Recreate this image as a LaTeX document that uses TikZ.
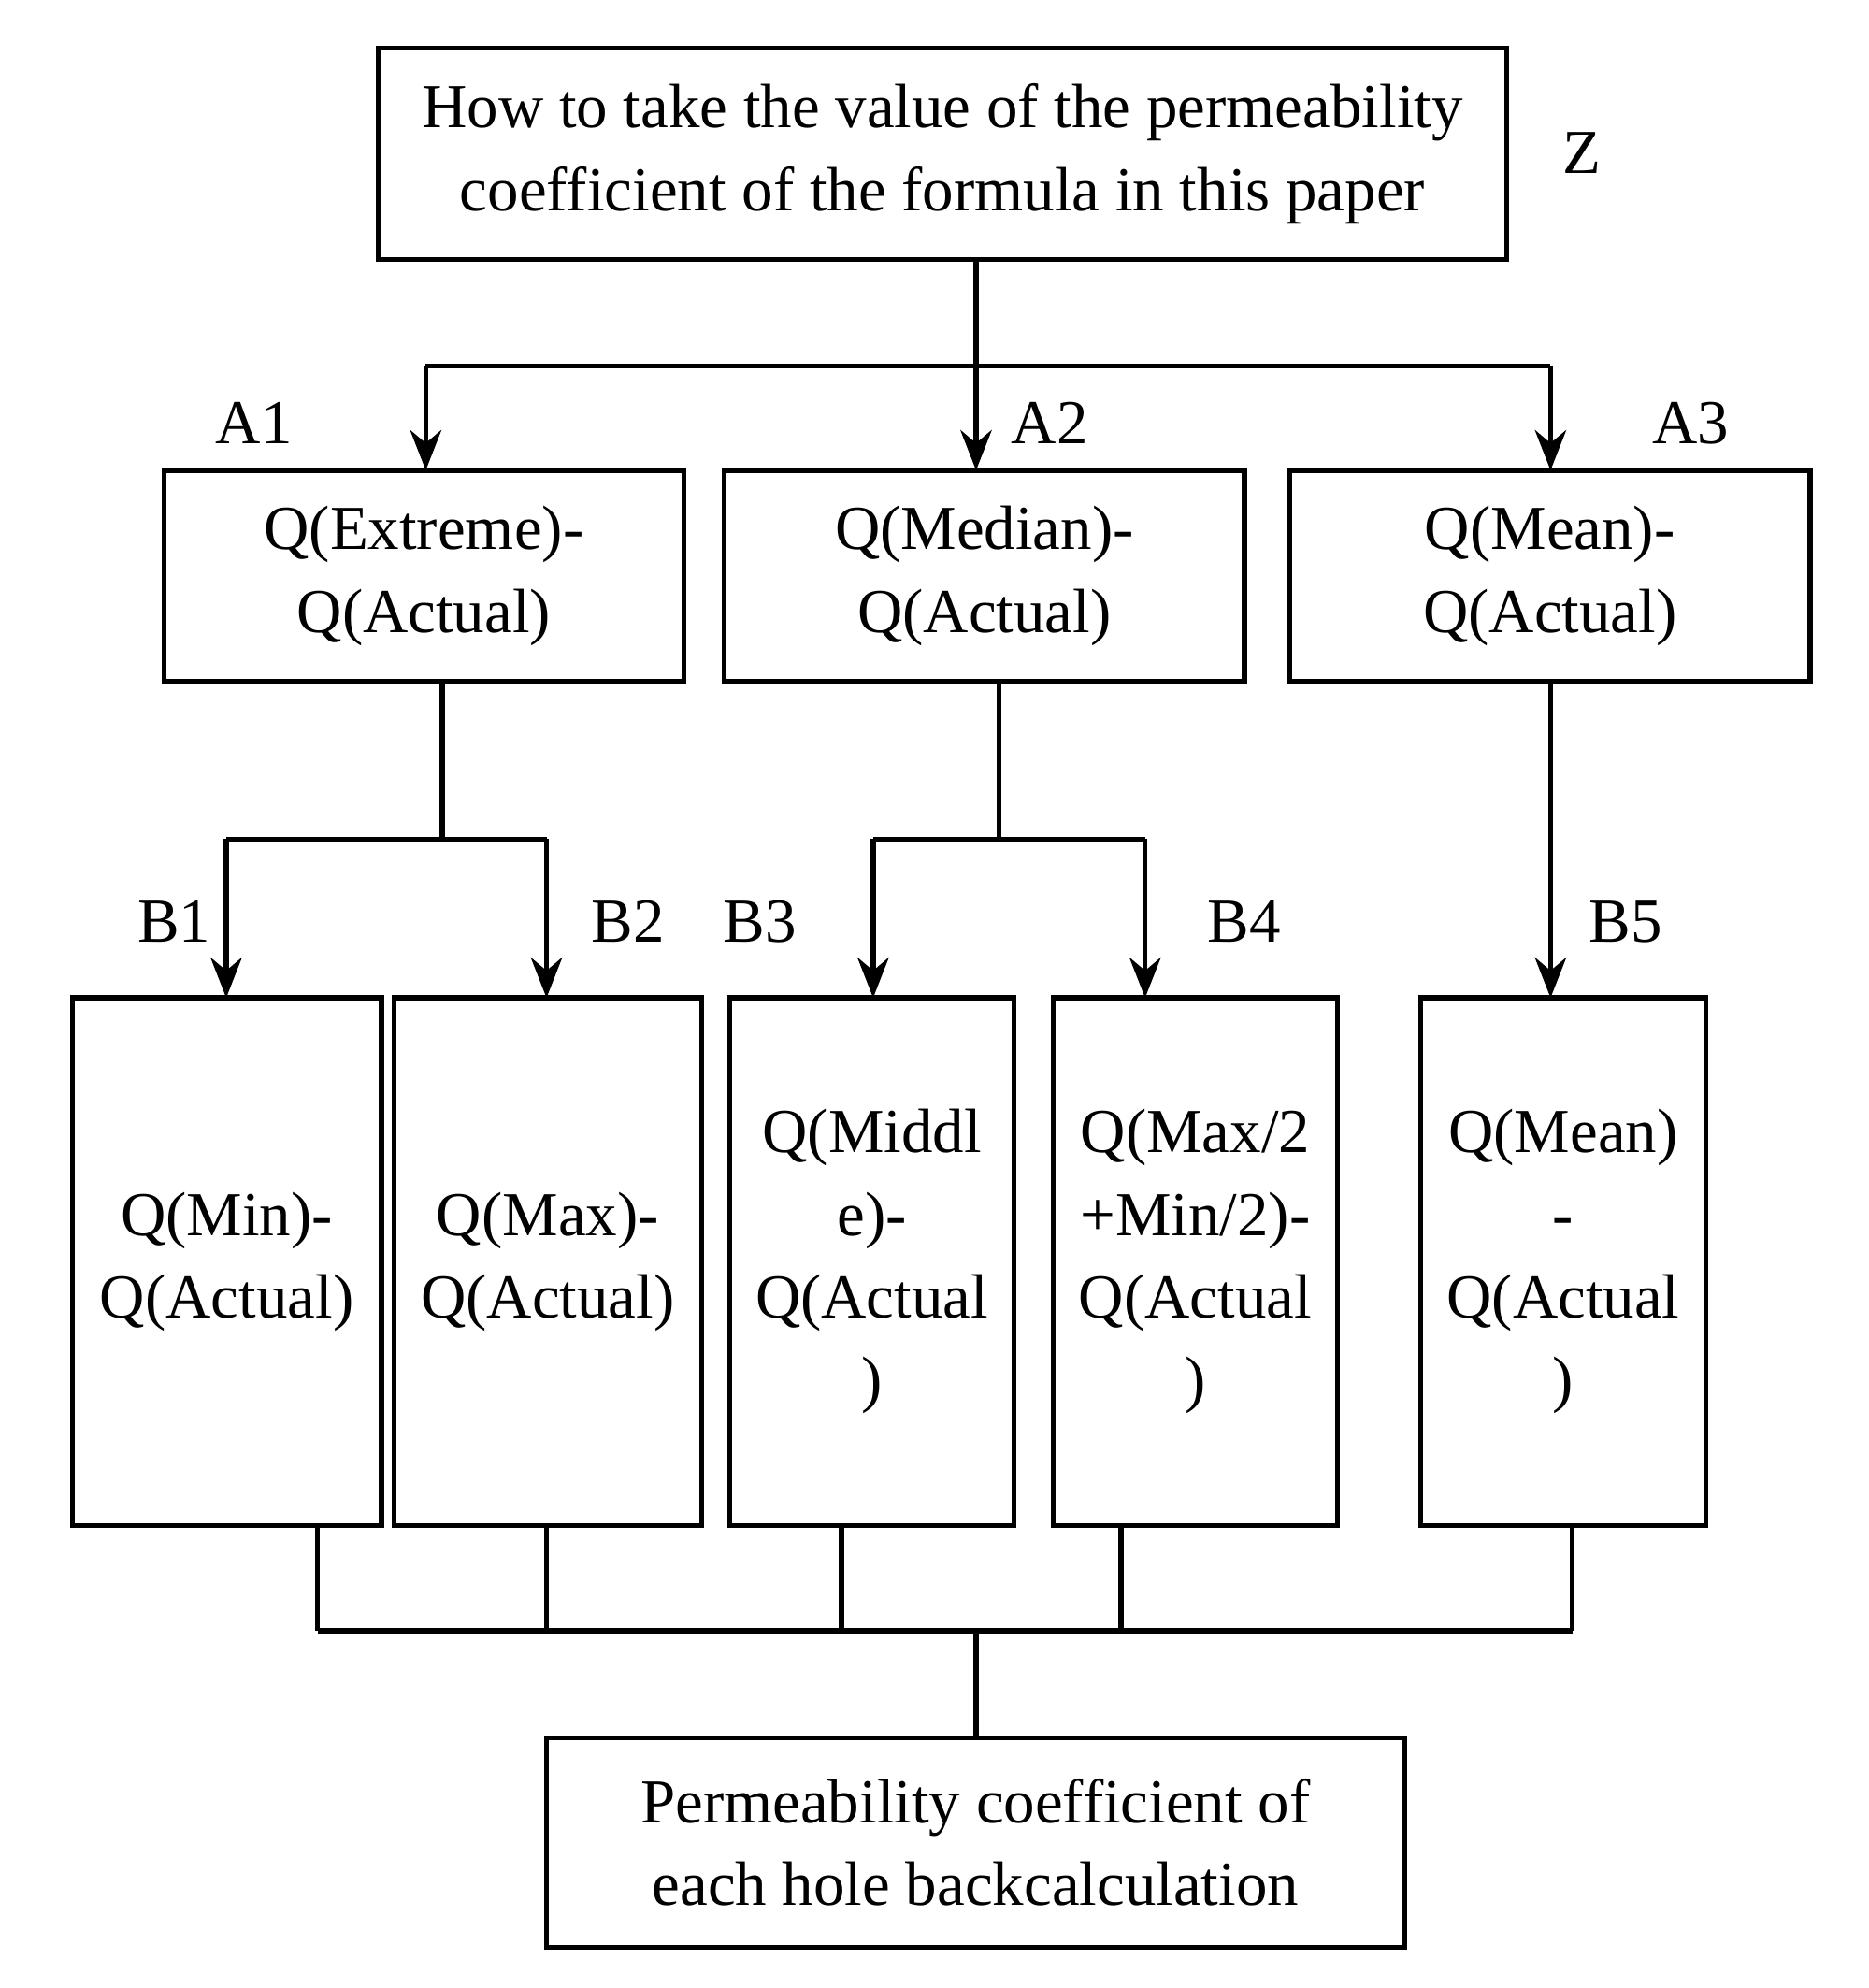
\documentclass[tikz,border=0pt]{standalone}
\usepackage{fontspec}
\setmainfont{Liberation Serif}
\usetikzlibrary{arrows.meta}
\begin{document}
\begin{tikzpicture}[x=0.01cm,y=-0.01cm,
  box/.style={draw,line width=1.1pt,inner sep=0pt,align=center,font=\fontsize{14}{18.5}\selectfont},
  lbl/.style={font=\fontsize{14}{18}\selectfont},
  ln/.style={line width=1.1pt},
  ar/.style={line width=1.1pt,-{Stealth[length=9pt,width=7pt]}}]
\useasboundingbox (0,0) rectangle (1470,1564);
\node[box,minimum width=887\pgflinewidth] (Z) at (741.5,121) [minimum width=8.87cm,minimum height=1.66cm] {How to take the value of the permeability\\coefficient of the formula in this paper};
\node[lbl] (zl) at (1245,120) {Z};
\node[box,minimum width=4.09cm,minimum height=1.66cm] (A1) at (333.5,453) {Q(Extreme)-\\Q(Actual)};
\node[box,minimum width=4.09cm,minimum height=1.66cm] (A2) at (774.5,453) {Q(Median)-\\Q(Actual)};
\node[box,minimum width=4.09cm,minimum height=1.66cm] (A3) at (1219.5,453) {Q(Mean)-\\Q(Actual)};
\node[lbl] (a1l) at (200,333) {A1};
\node[lbl] (a2l) at (826,333) {A2};
\node[lbl] (a3l) at (1330,333) {A3};
\node[box,minimum width=2.43cm,minimum height=4.15cm] (B1) at (178.5,992.5) {Q(Min)-\\Q(Actual)};
\node[box,minimum width=2.42cm,minimum height=4.15cm] (B2) at (431,992.5) {Q(Max)-\\Q(Actual)};
\node[box,minimum width=2.24cm,minimum height=4.15cm] (B3) at (686,992.5) {Q(Middl\\e)-\\Q(Actual\\)};
\node[box,minimum width=2.23cm,minimum height=4.15cm] (B4) at (940.5,992.5) {Q(Max/2\\+Min/2)-\\Q(Actual\\)};
\node[box,minimum width=2.24cm,minimum height=4.15cm] (B5) at (1230,992.5) {Q(Mean)\\-\\Q(Actual\\)};
\node[lbl] (b1l) at (137,725) {B1};
\node[lbl] (b2l) at (494,725) {B2};
\node[lbl] (b3l) at (598,725) {B3};
\node[lbl] (b4l) at (979,725) {B4};
\node[lbl] (b5l) at (1279,725) {B5};
\node[box,minimum width=6.75cm,minimum height=1.65cm] (F) at (767.5,1449.5) {Permeability coefficient of\\each hole backcalculation};
% top
\draw[ar] (768,204) -- (768,370);
\draw[ln] (335,288) -- (1220,288);
\draw[ar] (335,288) -- (335,370);
\draw[ar] (1220,288) -- (1220,370);
% A1
\draw[ln] (348,536) -- (348,660);
\draw[ln] (178,660) -- (430,660);
\draw[ar] (178,660) -- (178,785);
\draw[ar] (430,660) -- (430,785);
% A2
\draw[ln] (786,536) -- (786,660);
\draw[ln] (687,660) -- (901,660);
\draw[ar] (687,660) -- (687,785);
\draw[ar] (901,660) -- (901,785);
% A3
\draw[ar] (1220,536) -- (1220,785);
% bottom
\foreach \x in {250,430,662,882,1237} \draw[ln] (\x,1200) -- (\x,1283);
\draw[ln] (250,1283) -- (1237,1283);
\draw[ln] (768,1283) -- (768,1367);
\end{tikzpicture}
\end{document}
